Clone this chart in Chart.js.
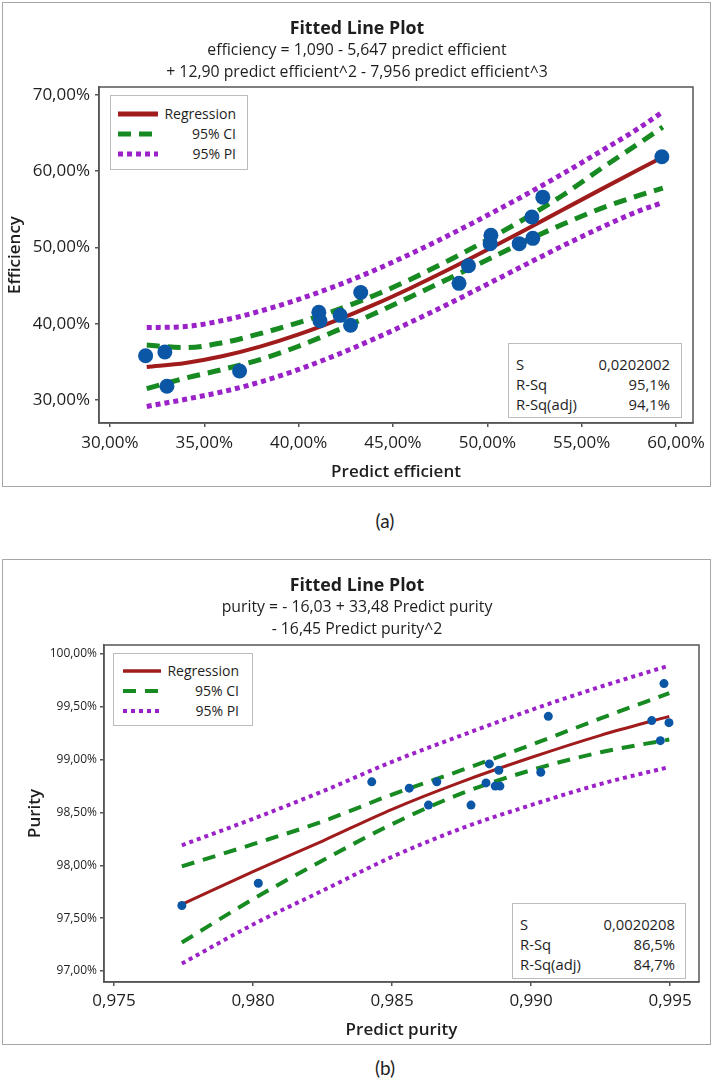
<!DOCTYPE html>
<html>
<head>
<meta charset="utf-8">
<title>Fitted Line Plot</title>
<script src="https://cdn.jsdelivr.net/npm/chart.js@4.4.1/dist/chart.umd.min.js"></script>
<style>
  body { margin: 0; background: #fff; }
  #page { position: relative; width: 714px; height: 1091px; overflow: hidden; font-family: "Open Sans", sans-serif; color: #1e1e1e; }
  .frame { position: absolute; left: 2px; width: 707px; border: 1.5px solid #a6a6a6; }
  .cv { position: absolute; left: 3px; }
  .txt { position: absolute; left: 0; width: 714px; text-align: center; white-space: nowrap; line-height: 1; transform: translateY(-50%); }
  .ttl { font-weight: bold; font-size: 17.8px; }
  .eq { font-size: 15.8px; }
  .cap { position: absolute; font-family: Lato, sans-serif; font-size: 19px; line-height: 1; transform: translate(-50%, -50%); }
  .box { position: absolute; background: #fff; border: 1.5px solid #bcbcbc; box-sizing: border-box; font-size: 14px; }
  .stat { font-size: 14.8px; }
  .row { position: absolute; left: 0; right: 0; height: 20px; line-height: 20px; transform: translateY(-50%); white-space: nowrap; }
  .row svg { position: absolute; top: 5px; }
  .row .r { position: absolute; text-align: right; }
  .row .l { position: absolute; }
</style>
</head>
<body>
<div id="page">
  <!-- (a) -->
  <div class="frame" style="top:2px;height:483px"></div>
  <canvas id="chartA" class="cv" width="708" height="484" style="top:3px;width:708px;height:484px"></canvas>
  <div class="txt ttl" style="top:28px">Fitted Line Plot</div>
  <div class="txt eq" style="top:50px">efficiency = 1,090 - 5,647 predict efficient</div>
  <div class="txt eq" style="top:72px">+ 12,90 predict efficient^2 - 7,956 predict efficient^3</div>

  <div class="box" style="left:110px;top:95px;width:138px;height:75px">
    <div class="row" style="top:18px"><svg style="left:7px" width="40" height="10"><line x1="0" y1="5" x2="40" y2="5" stroke="#a01c1c" stroke-width="5"/></svg><span class="r" style="right:11px">Regression</span></div>
    <div class="row" style="top:38px"><svg style="left:7px" width="40" height="10"><line x1="0" y1="5" x2="40" y2="5" stroke="#178a22" stroke-width="5" stroke-dasharray="13 8"/></svg><span class="r" style="right:11px">95% CI</span></div>
    <div class="row" style="top:58px"><svg style="left:7px" width="40" height="10"><line x1="0" y1="5" x2="40" y2="5" stroke="#9b22c8" stroke-width="5" stroke-dasharray="5 4"/></svg><span class="r" style="right:11px">95% PI</span></div>
  </div>
  <div class="box stat" style="left:508px;top:343px;width:174px;height:75px">
    <div class="row" style="top:20px"><span class="l" style="left:7px">S</span><span class="r" style="right:11px">0,0202002</span></div>
    <div class="row" style="top:40px"><span class="l" style="left:7px">R-Sq</span><span class="r" style="right:11px">95,1%</span></div>
    <div class="row" style="top:60px"><span class="l" style="left:7px">R-Sq(adj)</span><span class="r" style="right:11px">94,1%</span></div>
  </div>
  <div class="cap" style="left:385px;top:520px">(a)</div>

  <!-- (b) -->
  <div class="frame" style="top:559px;height:484px"></div>
  <canvas id="chartB" class="cv" width="708" height="484" style="top:560px;width:708px;height:484px"></canvas>
  <div class="txt ttl" style="top:585px">Fitted Line Plot</div>
  <div class="txt eq" style="top:607px">purity = - 16,03 + 33,48 Predict purity</div>
  <div class="txt eq" style="top:629px">- 16,45 Predict purity^2</div>

  <div class="box" style="left:113px;top:653px;width:140px;height:73px">
    <div class="row" style="top:17px"><svg style="left:9px" width="38" height="10"><line x1="0" y1="5" x2="38" y2="5" stroke="#a01c1c" stroke-width="3.5"/></svg><span class="r" style="right:13px">Regression</span></div>
    <div class="row" style="top:37px"><svg style="left:9px" width="38" height="10"><line x1="0" y1="5" x2="38" y2="5" stroke="#178a22" stroke-width="4" stroke-dasharray="13 9"/></svg><span class="r" style="right:13px">95% CI</span></div>
    <div class="row" style="top:57px"><svg style="left:9px" width="38" height="10"><line x1="0" y1="5" x2="38" y2="5" stroke="#9b22c8" stroke-width="4" stroke-dasharray="4 4"/></svg><span class="r" style="right:13px">95% PI</span></div>
  </div>
  <div class="box stat" style="left:512px;top:903px;width:174px;height:76px">
    <div class="row" style="top:20px"><span class="l" style="left:7px">S</span><span class="r" style="right:10px">0,0020208</span></div>
    <div class="row" style="top:40px"><span class="l" style="left:7px">R-Sq</span><span class="r" style="right:10px">86,5%</span></div>
    <div class="row" style="top:60px"><span class="l" style="left:7px">R-Sq(adj)</span><span class="r" style="right:10px">84,7%</span></div>
  </div>
  <div class="cap" style="left:385px;top:1067px">(b)</div>
</div>

<script>
// ---- (a) efficiency, values in % ----
const effPred = [31.89, 32.91, 33.02, 36.87, 41.07, 41.13, 42.2, 42.75, 43.29, 48.5, 49.0, 50.15, 50.19, 51.69, 52.41, 52.36, 52.94, 59.25];
const effObs  = [35.8, 36.3, 31.8, 33.8, 41.5, 40.4, 41.1, 39.8, 44.1, 45.3, 47.6, 50.5, 51.6, 50.5, 51.2, 54.0, 56.6, 61.9];
const effFitX = [31.95, 34, 36, 38, 40, 42, 44, 46, 48, 50, 52, 54, 56, 58, 59.3];
const effFit  = [34.33, 34.86, 35.77, 37.03, 38.60, 40.44, 42.50, 44.76, 47.17, 49.70, 52.30, 54.95, 57.59, 60.20, 61.86];
const effCiUp = [37.2, 36.86, 37.52, 38.73, 40.15, 41.79, 43.70, 45.91, 48.37, 51.0, 53.8, 56.85, 60.3, 63.6, 65.8];
const effCiLo = [31.5, 32.86, 34.02, 35.33, 37.05, 39.09, 41.30, 43.61, 45.97, 48.4, 50.8, 53.05, 55.1, 56.8, 57.8];
const effPiUp = [39.5, 39.63, 40.44, 41.68, 43.2, 44.98, 46.99, 49.24, 51.66, 54.22, 56.88, 59.68, 62.6, 65.6, 67.8];
const effPiLo = [29.15, 30.09, 31.1, 32.38, 34.0, 35.9, 38.01, 40.28, 42.68, 45.18, 47.72, 50.22, 52.59, 54.76, 55.9];
const effXTicks = [30, 35, 40, 45, 50, 55, 60];
const effYTicks = [30, 40, 50, 60, 70];

// ---- (b) purity ----
const purPred = [0.97744, 0.98019, 0.98427, 0.98562, 0.98631, 0.98661, 0.98784, 0.98838, 0.98850, 0.98884, 0.98871, 0.98888, 0.99035, 0.99062, 0.99434, 0.99478, 0.99496, 0.99465];
const purObs  = [97.62, 97.83, 98.79, 98.73, 98.57, 98.79, 98.57, 98.78, 98.96, 98.90, 98.75, 98.75, 98.88, 99.41, 99.37, 99.72, 99.35, 99.18];
const purFitX = [0.97744, 0.980, 0.9825, 0.985, 0.9875, 0.990, 0.9925, 0.99497];
const purFit  = [97.63, 97.94, 98.23, 98.53, 98.79, 99.02, 99.23, 99.41];
const purCiUp = [97.99, 98.20, 98.415, 98.67, 98.90, 99.14, 99.39, 99.63];
const purCiLo = [97.27, 97.68, 98.045, 98.39, 98.68, 98.90, 99.07, 99.19];
const purPiUp = [98.19, 98.44, 98.70, 98.98, 99.23, 99.47, 99.69, 99.89];
const purPiLo = [97.07, 97.44, 97.76, 98.08, 98.35, 98.57, 98.77, 98.93];
const purXTicks = [0.975, 0.980, 0.985, 0.990, 0.995];
const purYTicks = [97, 97.5, 98, 98.5, 99, 99.5, 100];

const FONT = '"Open Sans", sans-serif';
const INK = '#1e1e1e', AXIS = '#555555';
const BLUE = '#0b56a5', RED = '#a01c1c', GREEN = '#178a22', PURPLE = '#9b22c8';

function pts(xs, ys) { return xs.map((x, i) => ({ x: x, y: ys[i] })); }
const pctFmt = v => v.toFixed(2).replace('.', ',') + '%';

// box round the data region, like minitab
const frameBox = {
  id: 'frameBox',
  afterDraw(chart) {
    const a = chart.chartArea, ctx = chart.ctx;
    ctx.save();
    ctx.strokeStyle = AXIS;
    ctx.lineWidth = 1.5;
    ctx.strokeRect(a.left, a.top, a.right - a.left, a.bottom - a.top);
    ctx.restore();
  }
};

function makeChart(id, d) {
  const line = (ys, color, w, dash) => ({
    data: pts(d.fitX, ys), showLine: true, pointRadius: 0, fill: false,
    borderColor: color, borderWidth: w, borderDash: dash, borderCapStyle: 'butt',
    tension: 0.4, cubicInterpolationMode: 'monotone'
  });
  return new Chart(document.getElementById(id), {
    type: 'scatter',
    data: {
      datasets: [
        { data: pts(d.x, d.y), pointRadius: d.r, pointHoverRadius: d.r, backgroundColor: BLUE, borderWidth: 0 },
        line(d.fit, RED, d.regW, []),
        line(d.ciUp, GREEN, d.ciW, d.ciDash),
        line(d.ciLo, GREEN, d.ciW, d.ciDash),
        line(d.piUp, PURPLE, d.piW, d.piDash),
        line(d.piLo, PURPLE, d.piW, d.piDash)
      ]
    },
    options: {
      responsive: false,
      animation: false,
      events: [],
      layout: { padding: d.pad },
      plugins: { legend: { display: false }, tooltip: { enabled: false } },
      scales: {
        x: {
          type: 'linear', min: d.xMin, max: d.xMax,
          afterBuildTicks: s => { s.ticks = d.xTicks.map(v => ({ value: v })); },
          afterFit: s => { s.height = d.xH; s.paddingLeft = 0; s.paddingRight = 0; },
          ticks: { callback: d.xFmt, font: { family: FONT, size: d.xTickSize }, color: INK, padding: d.xTickPad, maxRotation: 0, autoSkip: false },
          grid: { drawOnChartArea: false, tickLength: 4, color: AXIS, lineWidth: 1.5 },
          border: { color: AXIS, width: 1.5 },
          title: { display: true, text: d.xTitle, font: { family: FONT, size: 17, weight: '600' }, color: INK, padding: { top: 0, bottom: d.xTitlePad } }
        },
        y: {
          type: 'linear', min: d.yMin, max: d.yMax,
          afterBuildTicks: s => { s.ticks = d.yTicks.map(v => ({ value: v })); },
          afterFit: s => { s.width = d.yW; s.paddingTop = 0; s.paddingBottom = 0; },
          ticks: { callback: pctFmt, font: { family: FONT, size: d.yTickSize }, color: INK, padding: d.yTickPad, autoSkip: false },
          grid: { drawOnChartArea: false, tickLength: 4, color: AXIS, lineWidth: 1.5 },
          border: { color: AXIS, width: 1.5 },
          title: { display: true, text: d.yTitle, font: { family: FONT, size: 17, weight: '600' }, color: INK, padding: { top: d.yTitlePad, bottom: 0 } }
        }
      }
    },
    plugins: [frameBox]
  });
}

makeChart('chartA', {
  x: effPred, y: effObs, fitX: effFitX, fit: effFit,
  ciUp: effCiUp, ciLo: effCiLo, piUp: effPiUp, piLo: effPiLo,
  xTicks: effXTicks, yTicks: effYTicks,
  xMin: 29.42, xMax: 60.9, yMin: 26.98, yMax: 71.05,
  xFmt: pctFmt, xTitle: 'Predict efficient', yTitle: 'Efficiency',
  r: 7.5, regW: 4, ciW: 5, ciDash: [13, 8], piW: 5, piDash: [5, 4],
  pad: { left: 0, right: 18, top: 84, bottom: 0 },
  xH: 64, yW: 96, xTickSize: 17, yTickSize: 17, xTickPad: 6, yTickPad: 5,
  xTitlePad: 5, yTitlePad: 2
});

makeChart('chartB', {
  x: purPred, y: purObs, fitX: purFitX, fit: purFit,
  ciUp: purCiUp, ciLo: purCiLo, piUp: purPiUp, piLo: purPiLo,
  xTicks: purXTicks, yTicks: purYTicks,
  xMin: 0.97464, xMax: 0.99604, yMin: 96.896, yMax: 100.085,
  xFmt: v => v.toFixed(3).replace('.', ','), xTitle: 'Predict purity', yTitle: 'Purity',
  r: 4.5, regW: 3, ciW: 4, ciDash: [13, 9], piW: 4, piDash: [4, 4],
  pad: { left: 0, right: 12, top: 85, bottom: 0 },
  xH: 62, yW: 101, xTickSize: 17, yTickSize: 12, xTickPad: 5, yTickPad: 3,
  xTitlePad: 4, yTitlePad: 22
});
</script>
</body>
</html>
